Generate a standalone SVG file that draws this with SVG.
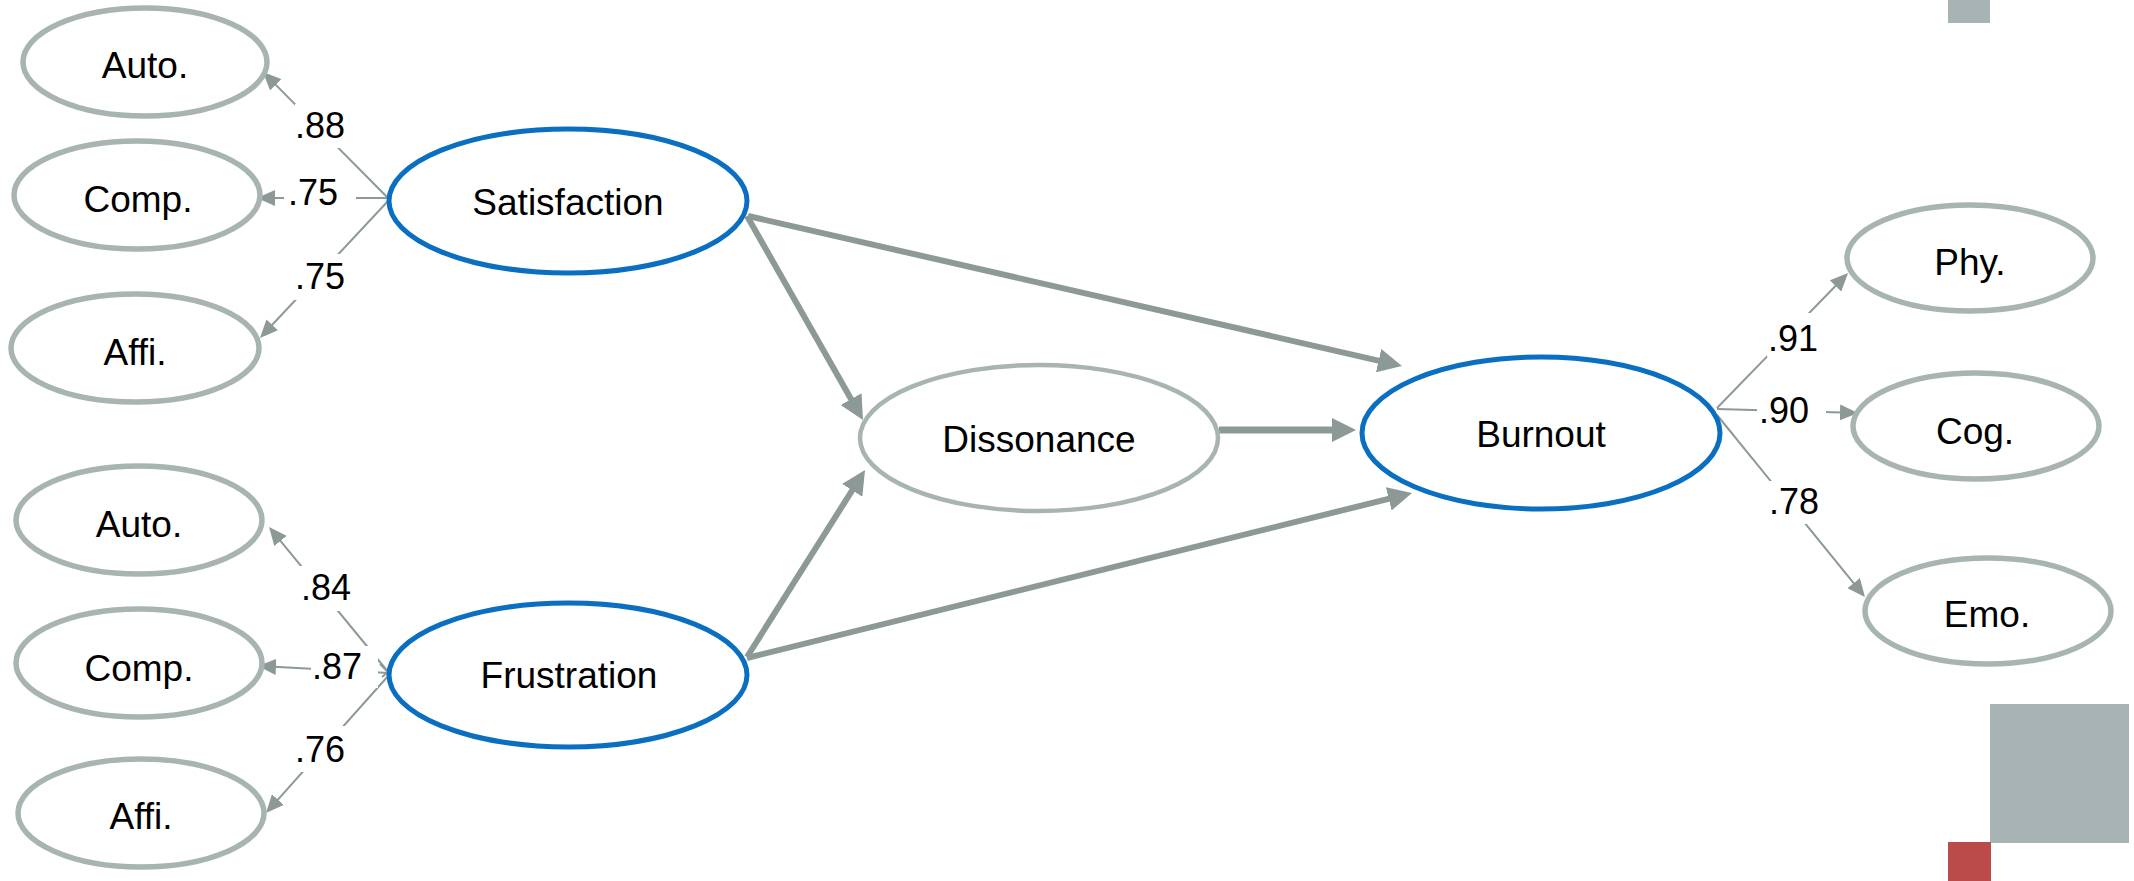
<svg xmlns="http://www.w3.org/2000/svg" width="2134" height="881" viewBox="0 0 2134 881">
<style>
.g{fill:#fff;stroke:#a7b4b2;stroke-width:5.5}
.b{fill:#fff;stroke:#0a6fc0;stroke-width:5}
.t{font-family:"Liberation Sans",Arial,sans-serif;font-size:37px;fill:#000;text-anchor:middle}
.l{font-family:"Liberation Sans",Arial,sans-serif;font-size:36px;fill:#000;text-anchor:middle}
.thin{stroke:#8c9997;stroke-width:2;fill:none;marker-end:url(#ah)}
.thick{stroke:#8c9997;stroke-width:6;fill:none;marker-end:url(#AH)}
.bg{fill:#fff}
</style>
<defs>
<marker id="ah" markerUnits="userSpaceOnUse" markerWidth="18" markerHeight="16" refX="2" refY="8" orient="auto">
<path d="M0,0 L18,8 L0,16 z" fill="#8c9997"/>
</marker>
<marker id="AH" markerUnits="userSpaceOnUse" markerWidth="24" markerHeight="24" refX="3" refY="12" orient="auto">
<path d="M0,0 L24,12 L0,24 z" fill="#8c9997"/>
</marker>
</defs>
<rect width="2134" height="881" fill="#fff"/>
<g id="decor">
<rect x="1948" y="0" width="42" height="23" fill="#a7b4b3"/>
<rect x="1990" y="704" width="139" height="139" fill="#a7b4b3"/>
<rect x="1948" y="842" width="43" height="39" fill="#bb4a4a"/>
</g>
<g id="connectors">
<line class="thick" x1="747" y1="216" x2="852.6" y2="401.7"/>
<line class="thick" x1="748" y1="216" x2="1381.5" y2="361.3"/>
<line class="thick" style="stroke-width:7" x1="1219" y1="430" x2="1335" y2="430"/>
<line class="thick" x1="747" y1="657" x2="853.8" y2="487.8"/>
<line class="thick" x1="747" y1="658" x2="1391.6" y2="498.1"/>
<line class="thin" x1="389" y1="199" x2="274.3" y2="83.4"/>
<line class="thin" x1="389" y1="198" x2="273" y2="198"/>
<line class="thin" x1="389" y1="200" x2="270.9" y2="326.3"/>
<line class="thin" x1="389" y1="673" x2="279.2" y2="539.4"/>
<line class="thin" x1="389" y1="673" x2="274" y2="666.8"/>
<line class="thin" x1="389" y1="675" x2="276.6" y2="801.1"/>
<line class="thin" x1="1717" y1="408" x2="1836.9" y2="284.5"/>
<line class="thin" x1="1717" y1="409" x2="1842" y2="412.5"/>
<line class="thin" x1="1717" y1="415" x2="1854.9" y2="584.6"/>
<polyline points="380,664 388,672 382,677" fill="none" stroke="#8c9997" stroke-width="2"/>
<rect class="bg" x="295" y="104" width="52" height="44"/>
<text class="l" x="320" y="138">.88</text>
<rect class="bg" x="284" y="178" width="72" height="38"/>
<text class="l" x="313" y="205">.75</text>
<rect class="bg" x="294" y="254" width="52" height="46"/>
<text class="l" x="320" y="289">.75</text>
<rect class="bg" x="299" y="566" width="54" height="45"/>
<text class="l" x="326" y="600">.84</text>
<rect class="bg" x="311" y="646" width="67" height="42"/>
<text class="l" x="337" y="679">.87</text>
<rect class="bg" x="294" y="726" width="52" height="46"/>
<text class="l" x="320" y="762">.76</text>
<rect class="bg" x="1767" y="313" width="52" height="44"/>
<text class="l" x="1793" y="351">.91</text>
<rect class="bg" x="1757" y="390" width="69" height="40"/>
<text class="l" x="1784" y="423">.90</text>
<rect class="bg" x="1768" y="481" width="52" height="43"/>
<text class="l" x="1794" y="514">.78</text>
</g>
<g id="sat-auto"><ellipse class="g" cx="145" cy="62" rx="122" ry="54"/><text class="t" x="145" y="78">Auto.</text></g>
<g id="sat-comp"><ellipse class="g" cx="137" cy="195" rx="123" ry="54"/><text class="t" x="138" y="212">Comp.</text></g>
<g id="sat-affi"><ellipse class="g" cx="135" cy="348" rx="124" ry="54"/><text class="t" x="135" y="365">Affi.</text></g>
<g id="satisfaction"><ellipse class="b" cx="568" cy="201" rx="179" ry="72"/><text class="t" x="568" y="215">Satisfaction</text></g>
<g id="fru-auto"><ellipse class="g" cx="139" cy="520" rx="123" ry="54"/><text class="t" x="139" y="537">Auto.</text></g>
<g id="fru-comp"><ellipse class="g" cx="139" cy="663" rx="123" ry="54"/><text class="t" x="139" y="681">Comp.</text></g>
<g id="fru-affi"><ellipse class="g" cx="141" cy="813" rx="123" ry="54"/><text class="t" x="141" y="829">Affi.</text></g>
<g id="frustration"><ellipse class="b" cx="568" cy="675" rx="179" ry="72"/><text class="t" x="569" y="688">Frustration</text></g>
<g id="dissonance"><ellipse class="g" style="stroke-width:4.5" cx="1039" cy="438" rx="179" ry="73"/><text class="t" x="1039" y="452">Dissonance</text></g>
<g id="burnout"><ellipse class="b" cx="1541" cy="433" rx="179" ry="76"/><text class="t" x="1541" y="447">Burnout</text></g>
<g id="phy"><ellipse class="g" cx="1970" cy="258" rx="123" ry="53"/><text class="t" x="1970" y="275">Phy.</text></g>
<g id="cog"><ellipse class="g" cx="1976" cy="426" rx="123" ry="53"/><text class="t" x="1975" y="444">Cog.</text></g>
<g id="emo"><ellipse class="g" cx="1988" cy="611" rx="123" ry="53"/><text class="t" x="1987" y="627">Emo.</text></g>
</svg>
